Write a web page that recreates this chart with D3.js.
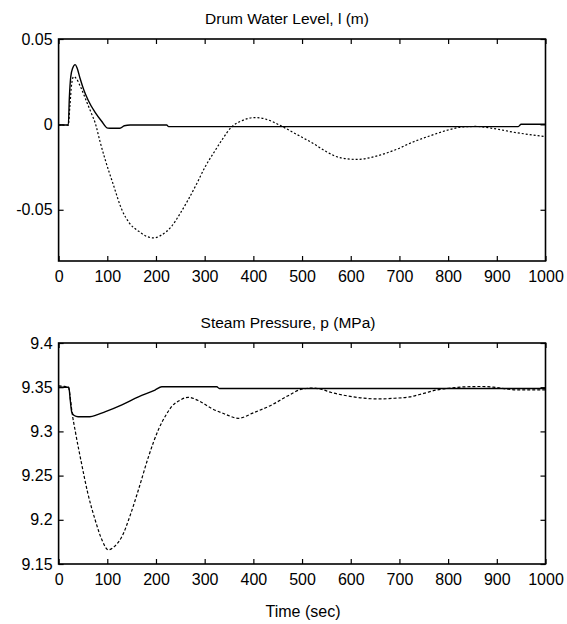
<!DOCTYPE html>
<html>
<head>
<meta charset="utf-8">
<script src="https://cdn.jsdelivr.net/npm/d3@7"></script>
<style>
  body { margin: 0; background: #fff; }
  svg { display: block; }
  text { font-family: "Liberation Sans", Arial, sans-serif; fill: #000; }
</style>
</head>
<body>
<div id="main"></div>
<script>
var ctx = {
    w: 567,
    h: 624,
    left: 58.6,
    right: 545.5,
    FONT: 16,
};

// time axis shared by both panels
var timeTicks = [0, 100, 200, 300, 400, 500, 600, 700, 800, 900, 1000];

// drum water level (m), solid = controlled, dashed = reference
var levelSolidT = [0, 20, 22, 25, 29, 34, 38, 44, 52, 61, 75, 88, 101, 110, 126, 135, 147, 222, 226, 944, 950, 1000];
var levelSolidV = [-0.0004, -0.0004, 0.015, 0.028, 0.033, 0.035, 0.033, 0.027, 0.020, 0.014, 0.007, 0.002, -0.0022, -0.0023, -0.0023, -0.0008, -0.0004, -0.0004, -0.0013, -0.0013, 0.0001, 0.0001];
var levelDashT = [0, 20, 23, 27, 31, 36, 45, 58, 68, 75, 85, 95, 112, 130, 146, 164, 180, 195, 210, 232, 250, 266, 285, 301, 320, 335, 355, 375, 403, 420, 440, 455, 490, 523, 550, 578, 612, 640, 660, 695, 728, 765, 797, 830, 858, 895, 933, 1000];
var levelDashV = [-0.0004, -0.0004, 0.010, 0.024, 0.028, 0.027, 0.022, 0.013, 0.006, 0.001, -0.010, -0.020, -0.035, -0.050, -0.058, -0.0625, -0.0655, -0.0665, -0.0650, -0.0597, -0.052, -0.0442, -0.034, -0.0248, -0.0160, -0.0093, -0.0016, 0.0020, 0.0040, 0.0035, 0.0015, -0.0006, -0.0060, -0.0112, -0.0160, -0.0195, -0.0205, -0.0195, -0.0180, -0.0145, -0.0103, -0.0065, -0.0035, -0.0015, -0.0012, -0.0025, -0.0045, -0.0072];
var levelTicks = [0.05, 0, -0.05];
var levelTickLabels = ["0.05", "0", "-0.05"];

// steam pressure (MPa)
var pressSolidT = [0, 21, 24, 27, 32, 40, 64, 80, 95, 130, 164, 198, 212, 325, 330, 1000];
var pressSolidV = [9.350, 9.350, 9.335, 9.322, 9.318, 9.3166, 9.3166, 9.319, 9.322, 9.330, 9.339, 9.3468, 9.3505, 9.3505, 9.3485, 9.3485];
var pressDashT = [0, 10, 20, 24, 27, 35, 47, 60, 75, 90, 102, 115, 130, 147, 164, 185, 205, 220, 232, 250, 266, 290, 314, 340, 369, 400, 438, 470, 499, 520, 537, 560, 585, 620, 660, 690, 721, 750, 776, 805, 838, 870, 893, 920, 941, 1000];
var pressDashV = [9.3515, 9.351, 9.350, 9.338, 9.324, 9.298, 9.264, 9.230, 9.200, 9.176, 9.166, 9.170, 9.181, 9.205, 9.234, 9.272, 9.302, 9.318, 9.328, 9.3355, 9.3386, 9.334, 9.326, 9.320, 9.3148, 9.321, 9.330, 9.340, 9.3477, 9.349, 9.348, 9.344, 9.341, 9.338, 9.3367, 9.3375, 9.339, 9.343, 9.3468, 9.349, 9.3505, 9.3508, 9.350, 9.348, 9.347, 9.347];
var pressTicks = [9.4, 9.35, 9.3, 9.25, 9.2, 9.15];
var pressTickLabels = ["9.4", "9.35", "9.3", "9.25", "9.2", "9.15"];

var zip = function(ts, vs) {
    return ts.map(function(t, i) { return {t: t, v: vs[i]}; });
};

var drawPanel = function(svgEl, cfg) {
    var g = svgEl.append("g");
    var x = d3.scaleLinear().domain([0, 1000]).range([ctx.left, ctx.right]);
    var y = d3.scaleLinear().domain(cfg.domain).range([cfg.bottom, cfg.top]);

    // title
    g.append("text")
        .attr("x", cfg.titleX)
        .attr("y", cfg.top - 15)
        .style("text-anchor", "middle")
        .style("font-size", "15.5px")
        .text(cfg.title);

    // bottom axis with inward ticks and labels
    var xb = g.append("g")
        .attr("transform", "translate(0," + cfg.bottom + ")")
        .call(d3.axisBottom(x).tickValues(timeTicks).tickSizeInner(-5).tickSizeOuter(0).tickPadding(10)
            .tickFormat(d3.format("d")));
    xb.selectAll("text").style("font-size", ctx.FONT + "px").style("font-family", "Liberation Sans, Arial, sans-serif");
    // top axis, ticks only
    g.append("g")
        .attr("transform", "translate(0," + cfg.top + ")")
        .call(d3.axisTop(x).tickValues(timeTicks).tickSizeInner(-5).tickSizeOuter(0).tickFormat(""));
    // left axis
    var yl = g.append("g")
        .attr("transform", "translate(" + ctx.left + ",0)")
        .call(d3.axisLeft(y).tickValues(cfg.ticks).tickSizeInner(-5).tickSizeOuter(0).tickPadding(6)
            .tickFormat(function(d, i) { return cfg.tickLabels[i]; }));
    yl.selectAll("text").style("font-size", ctx.FONT + "px").style("font-family", "Liberation Sans, Arial, sans-serif");
    // right axis, ticks only
    g.append("g")
        .attr("transform", "translate(" + ctx.right + ",0)")
        .call(d3.axisRight(y).tickValues(cfg.ticks).tickSizeInner(-5).tickSizeOuter(0).tickFormat(""));

    g.selectAll(".domain").remove();
    g.selectAll(".tick line").style("stroke", "#000").style("stroke-width", 1.2);

    var clipId = "clip" + cfg.id;
    g.append("clipPath").attr("id", clipId)
        .append("rect")
        .attr("x", ctx.left).attr("y", cfg.top)
        .attr("width", ctx.right - ctx.left).attr("height", cfg.bottom - cfg.top);

    var line = d3.line()
        .x(function(d) { return x(d.t); })
        .y(function(d) { return y(d.v); })
        .curve(d3.curveMonotoneX);

    g.append("path")
        .datum(zip(cfg.dashT, cfg.dashV))
        .attr("clip-path", "url(#" + clipId + ")")
        .attr("d", line)
        .style("fill", "none")
        .style("stroke", "#000")
        .style("stroke-width", 1.2)
        .style("stroke-dasharray", cfg.dash);

    g.append("path")
        .datum(zip(cfg.solidT, cfg.solidV))
        .attr("clip-path", "url(#" + clipId + ")")
        .attr("d", line)
        .style("fill", "none")
        .style("stroke", "#000")
        .style("stroke-width", 1.4);

    // frame
    g.append("rect")
        .attr("x", ctx.left).attr("y", cfg.top)
        .attr("width", ctx.right - ctx.left).attr("height", cfg.bottom - cfg.top)
        .style("fill", "none")
        .style("stroke", "#000")
        .style("stroke-width", 1.6);
};

var createViz = function() {
    var svgEl = d3.select("#main").append("svg")
        .attr("width", ctx.w)
        .attr("height", ctx.h);

    drawPanel(svgEl, {
        id: "level", title: "Drum Water Level, l (m)", titleX: 287,
        top: 39, bottom: 261, domain: [-0.08, 0.05],
        ticks: levelTicks, tickLabels: levelTickLabels,
        solidT: levelSolidT, solidV: levelSolidV,
        dashT: levelDashT, dashV: levelDashV, dash: "2,2"
    });
    drawPanel(svgEl, {
        id: "press", title: "Steam Pressure, p (MPa)", titleX: 288,
        top: 343, bottom: 564, domain: [9.15, 9.4],
        ticks: pressTicks, tickLabels: pressTickLabels,
        solidT: pressSolidT, solidV: pressSolidV,
        dashT: pressDashT, dashV: pressDashV, dash: "3,2"
    });

    // x-axis label
    svgEl.append("text")
        .attr("x", 303)
        .attr("y", 617)
        .style("text-anchor", "middle")
        .style("font-size", "16px")
        .text("Time (sec)");
};

createViz();
</script>
</body>
</html>
